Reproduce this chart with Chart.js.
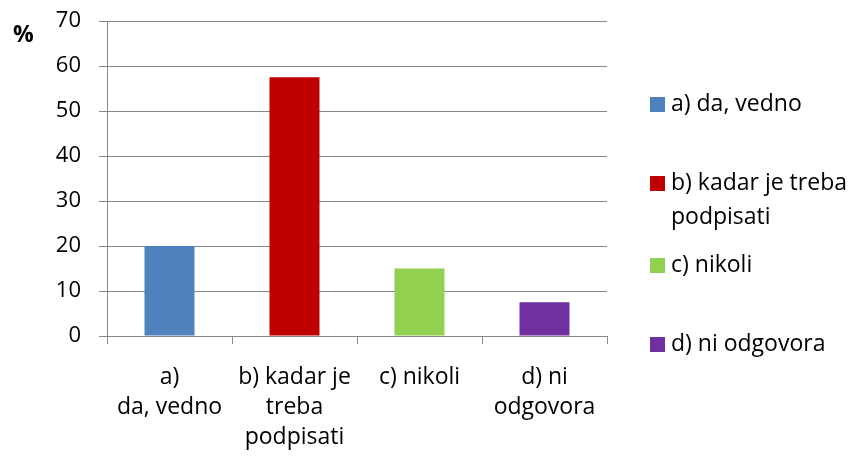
<!DOCTYPE html>
<html>
<head>
<meta charset="utf-8">
<script src="https://cdn.jsdelivr.net/npm/chart.js@4/dist/chart.umd.min.js"></script>
<style>
  html, body { margin: 0; padding: 0; background: #fff; }
  #wrap { width: 853px; height: 458px; }
</style>
</head>
<body>
<div id="wrap"><canvas id="chart"></canvas></div>
<script>
// chart data
const categories = [['a)', 'da, vedno'], ['b) kadar je', 'treba', 'podpisati'], ['c) nikoli'], ['d) ni', 'odgovora']];
const legendLabels = [['a) da, vedno'], ['b) kadar je treba', 'podpisati'], ['c) nikoli'], ['d) ni odgovora']];
const values = [20, 57.5, 15, 7.5];
const barColors = ['#4F81BD', '#C00000', '#92D050', '#7030A0'];
const yTicks = [0, 10, 20, 30, 40, 50, 60, 70];
const unitLabel = '%';

const FONT = '"Open Sans", Lato, sans-serif';
const GRID = '#888888';

// legend + unit drawn beside the plot
const sideLegend = {
    id: 'sideLegend',
    afterDraw: (chart) => {
        const ctx = chart.ctx;
        const area = chart.chartArea;
        ctx.save();
        ctx.fillStyle = '#000';
        ctx.font = 'bold 23px ' + FONT;
        ctx.textAlign = 'left';
        ctx.textBaseline = 'middle';
        ctx.fillText(unitLabel, 13, 35);

        ctx.font = '23px ' + FONT;
        const x = area.right + 43;
        const rowY = [104, 183, 265, 344];
        legendLabels.forEach((lines, i) => {
            ctx.fillStyle = barColors[i];
            ctx.fillRect(x, rowY[i] - 7, 15, 15);
            ctx.fillStyle = '#000';
            lines.forEach((line, j) => ctx.fillText(line, x + 21, rowY[i] + j * 34));
        });
        ctx.restore();
    }
};

new Chart(document.getElementById('chart'), {
    type: 'bar',
    data: {
        labels: categories,
        datasets: [{
            data: values,
            backgroundColor: barColors,
            borderWidth: 0,
            categoryPercentage: 1,
            barPercentage: 0.4
        }]
    },
    options: {
        responsive: true,
        maintainAspectRatio: false,
        animation: false,
        layout: { padding: { top: 0, right: 246, bottom: 0, left: 0 } },
        plugins: {
            legend: { display: false },
            tooltip: { enabled: false }
        },
        scales: {
            y: {
                min: 0,
                max: 70,
                afterBuildTicks: (s) => { s.ticks = yTicks.map(v => ({ value: v })); },
                afterFit: (s) => { s.width = 107; s.paddingTop = 21; s.paddingBottom = 0; },
                ticks: { color: '#000', font: { family: FONT, size: 22 }, padding: 18 },
                grid: { color: GRID, lineWidth: 1, tickLength: 8, drawTicks: true },
                border: { color: GRID, width: 1 }
            },
            x: {
                offset: true,
                afterFit: (s) => { s.height = 122; s.paddingLeft = 0; s.paddingRight = 0; },
                ticks: { color: '#000', font: { family: FONT, size: 23, lineHeight: 1.3 }, padding: 19, maxRotation: 0, autoSkip: false },
                grid: { offset: true, drawOnChartArea: false, color: GRID, tickLength: 8 },
                border: { color: GRID, width: 1 }
            }
        }
    },
    plugins: [sideLegend]
});
</script>
</body>
</html>
